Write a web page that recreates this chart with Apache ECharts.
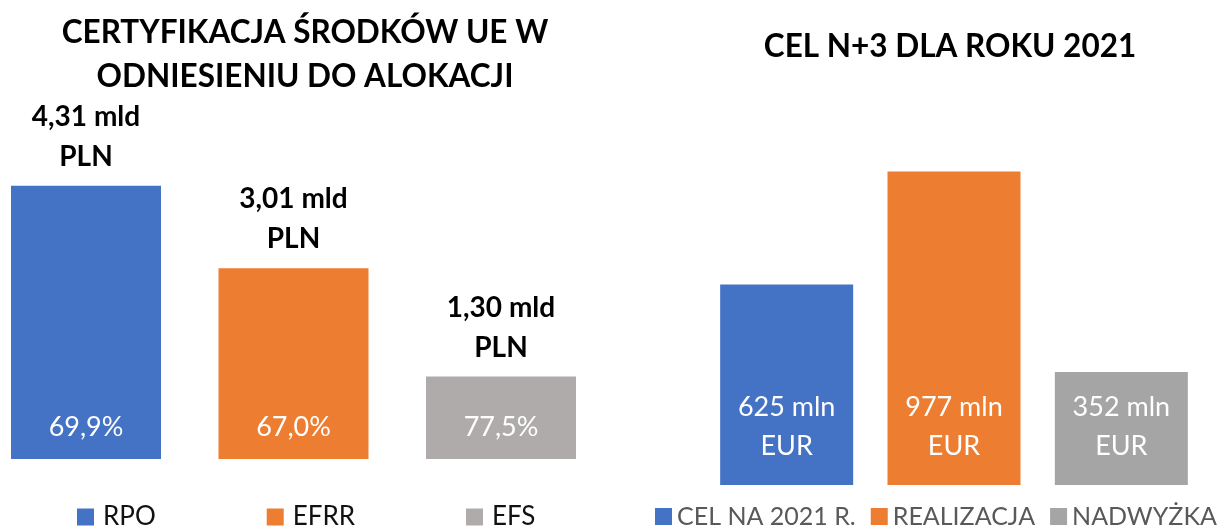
<!DOCTYPE html>
<html>
<head>
<meta charset="utf-8">
<script src="https://cdn.jsdelivr.net/npm/echarts@6/dist/echarts.min.js"></script>
<style>
  html, body { margin: 0; padding: 0; background: #fff; }
  #chart { width: 1218px; height: 528px; }
</style>
</head>
<body>
<div id="chart"></div>
<script>
  // lewy wykres: certyfikacja vs alokacja
  const leftCats = ['RPO', 'EFRR', 'EFS'];
  const leftValues = [4.31, 3.01, 1.30];          // mld PLN
  const leftPercent = ['69,9%', '67,0%', '77,5%'];
  const leftColors = ['#4472C4', '#ED7D31', '#AFABAB'];

  // prawy wykres: cel N+3
  const rightCats = ['CEL NA 2021 R.', 'REALIZACJA', 'NADWYŻKA'];
  const rightValues = [625, 977, 352];            // mln EUR
  const rightColors = ['#4472C4', '#ED7D31', '#A5A5A5'];

  const FONT = 'Lato';

  function only(arr, i) {
    return arr.map((v, j) => (j === i ? v : '-'));
  }

  const series = [];

  leftCats.forEach((name, i) => {
    series.push({
      name: name,
      type: 'bar',
      xAxisIndex: 0,
      yAxisIndex: 0,
      stack: 'left',
      barWidth: 150,
      clip: false,
      data: only(leftValues, i),
      itemStyle: { color: leftColors[i] },
      label: {
        show: true,
        position: 'insideBottom',
        distance: 17,
        color: '#fff',
        fontFamily: FONT,
        fontSize: 27,
        lineHeight: 30,
        formatter: (p) => leftPercent[p.dataIndex]
      }
    });
  });

  // przezroczysta seria tylko dla etykiet nad słupkami
  series.push({
    name: 'etykiety',
    type: 'bar',
    xAxisIndex: 0,
    yAxisIndex: 0,
    barWidth: 150,
    barGap: '-100%',
    clip: false,
    data: leftValues,
    itemStyle: { color: 'rgba(0,0,0,0)' },
    silent: true,
    label: {
      show: true,
      position: 'top',
      distance: 9,
      color: '#000',
      fontFamily: FONT,
      fontWeight: 'bold',
      fontSize: 28,
      lineHeight: 40,
      formatter: (p) => p.value.toFixed(2).replace('.', ',') + ' mld\nPLN'
    }
  });

  rightCats.forEach((name, i) => {
    series.push({
      name: name,
      type: 'bar',
      xAxisIndex: 1,
      yAxisIndex: 1,
      stack: 'right',
      barWidth: 133,
      data: only(rightValues, i),
      itemStyle: { color: rightColors[i] },
      label: {
        show: true,
        position: 'insideBottom',
        distance: 19,
        color: '#fff',
        fontFamily: FONT,
        fontSize: 27,
        lineHeight: 39,
        formatter: (p) => p.value + ' mln\nEUR'
      }
    });
  });

  const chart = echarts.init(document.getElementById('chart'));
  chart.setOption({
    animation: false,
    textStyle: { fontFamily: FONT },
    title: [
      {
        text: 'CERTYFIKACJA ŚRODKÓW UE W\nODNIESIENIU DO ALOKACJI',
        left: 305,
        top: 11,
        padding: 0,
        textAlign: 'center',
        textStyle: { fontFamily: FONT, fontWeight: 'bold', fontSize: 31.5, lineHeight: 44, color: '#000' }
      },
      {
        text: 'CEL N+3 DLA ROKU 2021',
        left: 950,
        top: 25,
        padding: 0,
        textAlign: 'center',
        textStyle: { fontFamily: FONT, fontWeight: 'bold', fontSize: 31.5, lineHeight: 44, color: '#000' }
      }
    ],
    legend: [
      {
        data: leftCats,
        left: 77,
        top: 504,
        padding: 0,
        itemWidth: 17,
        itemHeight: 17,
        itemGap: 111,
        icon: 'rect',
        textStyle: { fontFamily: FONT, fontSize: 26, color: '#111', padding: [0, 0, 0, 4] }
      },
      {
        data: rightCats,
        left: 655,
        top: 504,
        width: 700,
        padding: 0,
        itemWidth: 17,
        itemHeight: 17,
        itemGap: 15,
        icon: 'rect',
        textStyle: { fontFamily: FONT, fontSize: 25, color: '#595959' }
      }
    ],
    grid: [
      { left: 86, width: 415, top: 142, bottom: 69 },
      { left: 703, width: 502, top: 164, bottom: 43 }
    ],
    xAxis: [
      { type: 'category', gridIndex: 0, data: leftCats, boundaryGap: false, axisLine: { show: false }, axisTick: { show: false }, axisLabel: { show: false } },
      { type: 'category', gridIndex: 1, data: rightCats, axisLine: { show: false }, axisTick: { show: false }, axisLabel: { show: false } }
    ],
    yAxis: [
      { type: 'value', gridIndex: 0, min: 0, max: 5, show: false, splitLine: { show: false } },
      { type: 'value', gridIndex: 1, min: 0, max: 1000, show: false, splitLine: { show: false } }
    ],
    series: series
  });
</script>
</body>
</html>
